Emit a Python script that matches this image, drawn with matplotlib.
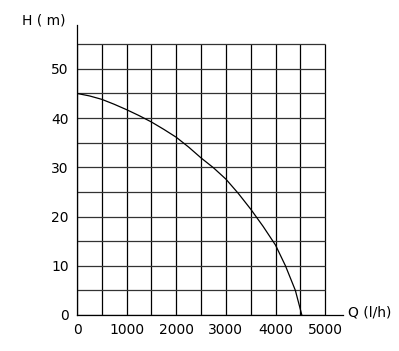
import matplotlib
matplotlib.use("Agg")
import matplotlib.pyplot as plt
from matplotlib import font_manager

# Data
flow_q = [0, 250, 500, 750, 1000, 1250, 1500, 1750, 2000, 2250, 2500, 2750,
          3000, 3250, 3500, 3750, 4000, 4200, 4400, 4530]
head_h = [45.0, 44.5, 43.8, 42.8, 41.7, 40.5, 39.2, 37.7, 36.1, 34.1, 31.9, 29.9,
          27.6, 24.7, 21.5, 18.0, 14.2, 10.0, 5.0, 0.0]
x_ticks = [0, 1000, 2000, 3000, 4000, 5000]
y_ticks = [0, 10, 20, 30, 40, 50]
x_grid = list(range(0, 5001, 500))
y_grid = list(range(0, 56, 5))

names = {f.name for f in font_manager.fontManager.ttflist}
fam = [n for n in ["DejaVu Sans Condensed", "Liberation Sans Narrow", "DejaVu Sans"] if n in names] or ["DejaVu Sans"]
plt.rcParams['font.family'] = fam

fig = plt.figure(figsize=(3.99, 3.51), dpi=100)
ax = fig.add_axes([77/399, 1 - 315/351, 266/399, 290/351])
ax.set_xlim(0, 5360)
ax.set_ylim(0, 58.9)

for xv in x_grid:
    ax.plot([xv, xv], [0, 55], color='black', lw=0.9, solid_capstyle='butt', zorder=1)
for yv in y_grid:
    ax.plot([0, 5000], [yv, yv], color='#333333', lw=0.9, solid_capstyle='butt', zorder=1)

ax.plot(flow_q, head_h, color='black', lw=0.9, zorder=3)

for s in ['top', 'right']:
    ax.spines[s].set_visible(False)
for s in ['left', 'bottom']:
    ax.spines[s].set_linewidth(0.9)
ax.set_xticks(x_ticks)
ax.set_yticks(y_ticks)
ax.tick_params(length=0, labelsize=10, pad=6)

fig.text(22/399, 1 - 20/351, "H ( m)", fontsize=10, va='center', ha='left')
fig.text(348/399, 1 - 313/351, "Q (l/h)", fontsize=10, va='center', ha='left')

fig.savefig("out.png", dpi=100)
